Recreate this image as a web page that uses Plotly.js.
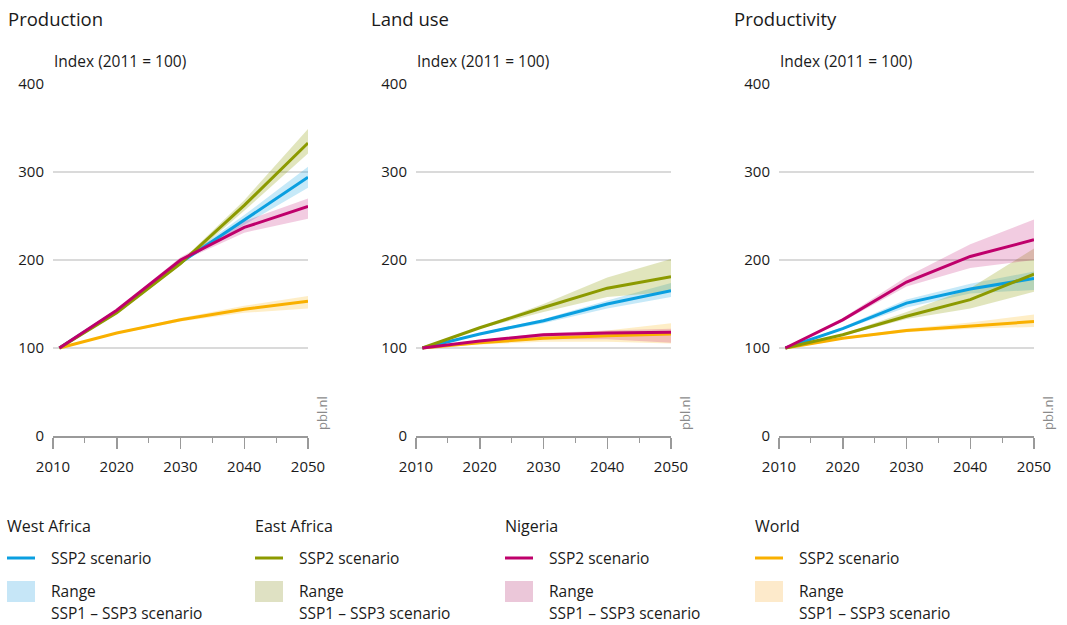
<!DOCTYPE html>
<html>
<head>
<meta charset="utf-8">
<script src="https://cdn.plot.ly/plotly-3.0.1.min.js"></script>
<style>html,body{margin:0;padding:0;background:#fff;}#chart{width:1067px;height:625px;}</style>
</head>
<body>
<div id="chart"></div>
<script>
// ---- data ----
const years = [2011, 2020, 2030, 2040, 2050];
const panels = ["Production", "Land use", "Productivity"];
const regions = ["World", "West Africa", "East Africa", "Nigeria"];

// Production
const prodWorld = [100, 117, 132, 144, 153];
const prodWorldLo = [100, 116, 130, 140, 145];
const prodWorldHi = [100, 118, 134, 148, 159];
const prodWest = [100, 142, 197, 246, 294];
const prodWestLo = [100, 141, 196, 240, 282];
const prodWestHi = [100, 143, 199, 251, 306];
const prodEast = [100, 140, 196, 262, 333];
const prodEastLo = [100, 139, 194, 256, 321];
const prodEastHi = [100, 141, 198, 268, 349];
const prodNig = [100, 143, 200, 237, 261];
const prodNigLo = [100, 142, 198, 231, 247];
const prodNigHi = [100, 144, 203, 244, 270];

// Land use
const landWorld = [100, 106, 111, 114, 116];
const landWorldLo = [100, 104, 107, 107, 105];
const landWorldHi = [100, 108, 114, 120, 128];
const landWest = [100, 116, 131, 150, 165];
const landWestLo = [100, 115, 128, 145, 158];
const landWestHi = [100, 117, 133, 154, 174];
const landEast = [100, 123, 146, 168, 181];
const landEastLo = [100, 122, 141, 158, 164];
const landEastHi = [100, 124, 150, 180, 201];
const landNig = [100, 108, 115, 117, 118];
const landNigLo = [100, 106, 110, 110, 106];
const landNigHi = [100, 109, 117, 120, 122];

// Productivity
const prdvWorld = [100, 111, 120, 125, 130];
const prdvWorldLo = [100, 110, 118, 122, 124];
const prdvWorldHi = [100, 112, 122, 129, 138];
const prdvWest = [100, 122, 151, 167, 179];
const prdvWestLo = [100, 121, 146, 162, 166];
const prdvWestHi = [100, 124, 155, 173, 187];
const prdvEast = [100, 115, 136, 155, 184];
const prdvEastLo = [100, 114, 133, 145, 164];
const prdvEastHi = [100, 116, 141, 168, 213];
const prdvNig = [100, 132, 175, 204, 223];
const prdvNigLo = [100, 130, 170, 191, 200];
const prdvNigHi = [100, 134, 181, 218, 246];

const xTickVals = [2010, 2020, 2030, 2040, 2050];
const xMinorVals = [2015, 2025, 2035, 2045];
const yTickVals = [0, 100, 200, 300, 400];

// ---- styling ----
const lineColors = {"World": "#f9b000", "West Africa": "#0a9fe0", "East Africa": "#8c9a00", "Nigeria": "#bf006b"};
const bandColors = {"World": "rgba(249,176,0,0.22)", "West Africa": "rgba(10,159,224,0.23)", "East Africa": "rgba(140,154,0,0.26)", "Nigeria": "rgba(191,0,107,0.2)"};
const swatchColors = {"World": "#fdeacb", "West Africa": "#c6e6f7", "East Africa": "#dfe1c3", "Nigeria": "#ebc7d9"};

const panelData = [
  {"World": [prodWorld, prodWorldLo, prodWorldHi], "West Africa": [prodWest, prodWestLo, prodWestHi], "East Africa": [prodEast, prodEastLo, prodEastHi], "Nigeria": [prodNig, prodNigLo, prodNigHi]},
  {"World": [landWorld, landWorldLo, landWorldHi], "West Africa": [landWest, landWestLo, landWestHi], "East Africa": [landEast, landEastLo, landEastHi], "Nigeria": [landNig, landNigLo, landNigHi]},
  {"World": [prdvWorld, prdvWorldLo, prdvWorldHi], "West Africa": [prdvWest, prdvWestLo, prdvWestHi], "East Africa": [prdvEast, prdvEastLo, prdvEastHi], "Nigeria": [prdvNig, prdvNigLo, prdvNigHi]}
];

const W = 1067, H = 625;
const mL = 53, mR = 33, mT = 84, mB = 189;
const plotW = W - mL - mR, plotH = H - mT - mB;
const px = x => (x - mL) / plotW;
const py = y => (H - mB - y) / plotH;

const panelLeft = [53, 416, 779];
const panelWidth = 255;

const traces = [];
panelData.forEach((pd, i) => {
  const ax = i === 0 ? "" : String(i + 1);
  regions.forEach(r => {
    const [mid, lo, hi] = pd[r];
    traces.push({
      type: "scatter", mode: "lines",
      x: years.concat(years.slice().reverse()),
      y: hi.concat(lo.slice().reverse()),
      fill: "toself", fillcolor: bandColors[r],
      line: {width: 0}, hoverinfo: "skip", showlegend: false,
      xaxis: "x" + ax, yaxis: "y" + ax
    });
  });
  regions.forEach(r => {
    const [mid] = pd[r];
    traces.push({
      type: "scatter", mode: "lines", x: years, y: mid,
      line: {color: lineColors[r], width: 3},
      showlegend: false, name: r,
      xaxis: "x" + ax, yaxis: "y" + ax
    });
  });
});

const fam = "Open Sans, Noto Sans, sans-serif";
const txt = "#1a1a1a";
const layout = {
  width: W, height: H,
  margin: {l: mL, r: mR, t: mT, b: mB},
  paper_bgcolor: "#fff", plot_bgcolor: "#fff",
  font: {family: fam, size: 15, color: txt},
  showlegend: false,
  annotations: [], shapes: []
};

panelLeft.forEach((left, i) => {
  const ax = i === 0 ? "" : String(i + 1);
  layout["xaxis" + ax] = {
    domain: [px(left), px(left + panelWidth)],
    range: [2010, 2050], tickmode: "array", tickvals: xTickVals,
    ticks: "outside", ticklen: 11, tickcolor: "#9a9a9a", tickwidth: 1.5,
    ticklabelstandoff: 5,
    showline: true, linecolor: "#9a9a9a", linewidth: 1.5,
    showgrid: false, zeroline: false, fixedrange: true,
    tickfont: {size: 15, color: txt},
    minor: {tickmode: "array", tickvals: xMinorVals, ticks: "outside", ticklen: 5, tickcolor: "#9a9a9a", tickwidth: 1.2, showgrid: false},
    anchor: "y" + ax
  };
  layout["yaxis" + ax] = {
    domain: [0, 1], range: [0, 400], tickmode: "array", tickvals: yTickVals,
    showgrid: true, gridcolor: "#dadada", gridwidth: 2,
    zeroline: false, showline: false, ticks: "", ticklabelstandoff: 8,
    tickfont: {size: 15, color: txt}, fixedrange: true,
    anchor: "x" + ax
  };
  layout.annotations.push({
    xref: "paper", yref: "paper", x: px(left - 47), y: py(18),
    xanchor: "left", yanchor: "middle", showarrow: false,
    text: panels[i], font: {size: 18.5, color: txt}
  });
  layout.annotations.push({
    xref: "paper", yref: "paper", x: px(left - 1), y: py(61),
    xanchor: "left", yanchor: "middle", showarrow: false,
    text: "Index (2011 = 100)", font: {size: 15.5, color: txt}
  });
  layout.annotations.push({
    xref: "paper", yref: "paper", x: px(left + panelWidth + 14), y: py(413),
    xanchor: "center", yanchor: "middle", showarrow: false, textangle: -90,
    text: "pbl.nl", font: {size: 13, color: "#8a8a8a"}
  });
});

// legend (drawn manually)
const legendRegions = ["West Africa", "East Africa", "Nigeria", "World"];
const legendX = [7, 255, 505, 755];
legendRegions.forEach((r, i) => {
  const x0 = legendX[i];
  const f = {size: 15.5, color: txt};
  layout.annotations.push({xref: "paper", yref: "paper", x: px(x0 - 2), y: py(526), xanchor: "left", yanchor: "middle", showarrow: false, text: r, font: {size: 16, color: txt}});
  layout.annotations.push({xref: "paper", yref: "paper", x: px(x0 + 42), y: py(558), xanchor: "left", yanchor: "middle", showarrow: false, text: "SSP2 scenario", font: f});
  layout.annotations.push({xref: "paper", yref: "paper", x: px(x0 + 42), y: py(591), xanchor: "left", yanchor: "middle", showarrow: false, text: "Range", font: f});
  layout.annotations.push({xref: "paper", yref: "paper", x: px(x0 + 42), y: py(613), xanchor: "left", yanchor: "middle", showarrow: false, text: "SSP1 – SSP3 scenario", font: f});
  layout.shapes.push({type: "line", xref: "paper", yref: "paper", x0: px(x0), x1: px(x0 + 28), y0: py(558), y1: py(558), line: {color: lineColors[r], width: 3}});
  layout.shapes.push({type: "rect", xref: "paper", yref: "paper", x0: px(x0), x1: px(x0 + 28), y0: py(581), y1: py(602), fillcolor: swatchColors[r], line: {width: 0}});
});

Plotly.newPlot("chart", traces, layout, {displayModeBar: false, staticPlot: true});
</script>
</body>
</html>
